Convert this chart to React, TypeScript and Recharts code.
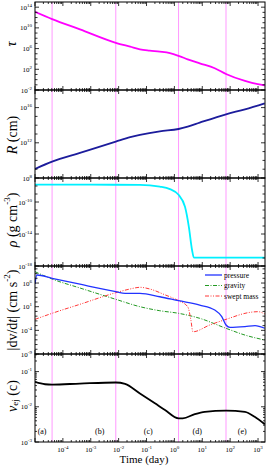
import React from 'react';
import { LineChart, Line, XAxis, YAxis, ReferenceLine, ReferenceDot } from 'recharts';

// ---------------- data (time in days) ----------------
const tauTime = [1e-5, 4.1e-5, 4.1e-4, 7.9e-3, 0.026, 0.058, 0.13, 0.3, 0.69, 1.41, 3.0, 8.1, 28, 71, 340, 980, 1740];
const tauValues = [1.3e13, 5e11, 5e9, 1.3e7, 2.3e6, 7.2e5, 4e5, 2.5e5, 1.3e5, 4e4, 8.5e3, 1.4e3, 160, 12.6, 0.56, 0.13, 0.08];

const rTime = [1e-5, 4.1e-5, 4.1e-4, 7.9e-3, 0.026, 0.058, 0.3, 1.41, 3.0, 8.1, 71, 340, 1740];
const rValues = [1.05e9, 7.1e9, 7.1e10, 1.35e12, 4.3e12, 7.8e12, 2e13, 3.7e13, 6.8e13, 1.95e14, 1.74e15, 6.3e15, 3e16];

const rhoTime = [1e-5, 1e-3, 0.058, 0.3, 0.69, 1.41, 2.4, 3.3, 4.3, 5.0, 100, 1740];
const rhoValues = [1.45e-8, 1.45e-8, 1.4e-8, 8.3e-9, 4e-9, 7.9e-10, 2.5e-11, 7.9e-14, 1e-16, 1.1e-17, 1.1e-17, 1.1e-17];

const pressureTime = [1e-5, 1.17e-5, 4.1e-5, 4.1e-4, 7.9e-3, 0.017, 0.058, 0.3, 1.41, 8.1, 28, 50, 71, 98, 340, 780, 1740];
const pressureValues = [6.3e5, 5e7, 1e7, 5.6e5, 1.5e4, 6.3e3, 6.3e3, 1.26e3, 182, 22, 2, 0.079, 1.35e-3, 4.4e-4, 6.3e-4, 1e-3, 2.8e-4];

const gravityTime = [1e-5, 4.1e-5, 4.1e-4, 7.9e-3, 0.058, 0.3, 1.41, 8.1, 71, 340, 1740];
const gravityValues = [2.5e8, 7.1e6, 8.9e4, 363, 10, 1.4, 0.4, 0.035, 2.7e-4, 1e-5, 9.1e-7];

const sweptTime = [1e-5, 4.1e-5, 4.1e-4, 7.9e-3, 0.026, 0.058, 0.13, 0.46, 1.41, 3.0, 3.9, 4.6, 18.6, 71, 510, 980, 1740];
const sweptValues = [0.021, 0.4, 32, 9.1e3, 5.6e4, 1.26e5, 5.6e4, 3.2e3, 182, 10, 0.016, 5e-5, 1.35e-3, 0.021, 0.63, 0.89, 0.3];

const vTime = [1e-5, 2.3e-5, 4.1e-5, 4.1e-4, 7.9e-3, 0.017, 0.058, 0.2, 0.46, 1.41, 2.0, 5.4, 12.3, 71, 340, 780, 1740];
const vValues = [0.051, 0.0437, 0.0427, 0.0457, 0.049, 0.0447, 0.024, 0.0126, 0.0081, 0.0047, 0.0047, 0.0062, 0.0072, 0.0078, 0.0072, 0.0051, 0.0032];

const phaseBoundaries = [4.1e-5, 7.9e-3, 1.41, 71];
const phaseLabelTimes = [1.8e-5, 2.1e-3, 0.115, 6.6, 270];
const phaseLabels = ['(a)', '(b)', '(c)', '(d)', '(e)'];
const phaseLabelLevel = 2e-3;

const xTickExps = [-5, -4, -3, -2, -1, 0, 1, 2, 3];
const xLabelExps = [-4, -3, -2, -1, 0, 1, 2, 3];

const tauLabelExps = [-2, 2, 6, 10, 14];
const rLabelExps = [8, 12, 16];
const rhoLabelExps = [-18, -14, -10];
const accLabelExps = [-9, -4, 1, 6];
const vLabelExps = [-3, -2, -1];

// ---------------- layout ----------------
const FONT = '"Liberation Serif", "DejaVu Serif", serif';
const W = 266;
const LEFT = 35;
const PLOT_W = 230;
const PLOT_H = 88;
const TOP0 = 2;
const X_MIN = 1e-5;
const X_MAX = 1778;
const BOTTOM_EXTRA = 24;

const mk = (t: number[], v: number[]) => t.map((x, i) => ({ t: x, v: v[i] }));

const xTicks: number[] = [];
xTickExps.forEach((e) => {
  for (let k = 1; k <= 9; k++) {
    const v = k * Math.pow(10, e);
    if (v >= X_MIN && v <= X_MAX) xTicks.push(v);
  }
});

function decadeTicks(lo: number, hi: number, minors: boolean): number[] {
  const out: number[] = [];
  for (let e = lo; e <= hi; e++) {
    out.push(Math.pow(10, e));
    if (minors) for (let k = 2; k <= 9; k++) out.push(k * Math.pow(10, e));
  }
  return out;
}

const isDecade = (v: number) => {
  const e = Math.log10(v);
  return Math.abs(e - Math.round(e)) < 1e-6;
};

const makeXTick = (showLabels: boolean) => (props: any) => {
  const { x, y, payload } = props;
  const v = payload.value;
  const major = isDecade(v);
  const e = Math.round(Math.log10(v));
  const len = major ? 4 : 2;
  return (
    <g>
      <line x1={x} y1={y} x2={x} y2={y - len} stroke="#000" strokeWidth={0.8} />
      <line x1={x} y1={y - PLOT_H} x2={x} y2={y - PLOT_H + len} stroke="#000" strokeWidth={0.8} />
      {showLabels && major && xLabelExps.includes(e) ? (
        <text x={x} y={y + 10} textAnchor="middle" fontFamily={FONT} fontSize={7} fill="#000">
          10<tspan dy={-3} fontSize={5}>{e}</tspan>
        </text>
      ) : null}
    </g>
  );
};

const makeYTick = (labelExps: number[]) => (props: any) => {
  const { x, y, payload } = props;
  const v = payload.value;
  const dec = isDecade(v);
  const e = Math.round(Math.log10(v));
  const labeled = dec && labelExps.includes(e);
  const len = dec ? (labeled ? 4 : 2.5) : 2;
  return (
    <g>
      <line x1={x} y1={y} x2={x + len} y2={y} stroke="#000" strokeWidth={0.8} />
      <line x1={x + PLOT_W} y1={y} x2={x + PLOT_W - len} y2={y} stroke="#000" strokeWidth={0.8} />
      {labeled ? (
        <text x={x - 3} y={y + 2.5} textAnchor="end" fontFamily={FONT} fontSize={7} fill="#000">
          10<tspan dy={-3} fontSize={5}>{e}</tspan>
        </text>
      ) : null}
    </g>
  );
};

type Series = { data: { t: number; v: number }[]; color: string; width: number; dash?: string; name: string };

type PanelProps = {
  index: number;
  yDomain: [number, number];
  yTicks: number[];
  labelExps: number[];
  series: Series[];
  last?: boolean;
};

function Panel({ index, yDomain, yTicks, labelExps, series, last }: PanelProps) {
  const top = TOP0 + index * PLOT_H;
  const extra = last ? BOTTOM_EXTRA : 0;
  return (
    <div style={{ position: 'absolute', left: 0, top: top - 1 }}>
      <LineChart width={W} height={PLOT_H + 2 + extra} margin={{ top: 1, right: 1, bottom: extra, left: 0 }}>
        <XAxis
          dataKey="t"
          type="number"
          scale="log"
          domain={[X_MIN, X_MAX]}
          allowDataOverflow
          ticks={xTicks}
          interval={0}
          tickSize={0}
          tickMargin={0}
          axisLine={false}
          tickLine={false}
          height={1}
          tick={makeXTick(!!last)}
        />
        <YAxis
          type="number"
          scale="log"
          domain={yDomain}
          allowDataOverflow
          ticks={yTicks}
          interval={0}
          width={LEFT}
          tickSize={0}
          tickMargin={0}
          axisLine={false}
          tickLine={false}
          tick={makeYTick(labelExps)}
        />
        {phaseBoundaries.map((b) => (
          <ReferenceLine key={'b' + b} x={b} stroke="#ff99ff" strokeWidth={1} />
        ))}
        {series.map((s) => (
          <Line
            key={s.name}
            data={s.data}
            dataKey="v"
            type="monotone"
            stroke={s.color}
            strokeWidth={s.width}
            strokeDasharray={s.dash}
            dot={false}
            isAnimationActive={false}
          />
        ))}
        {last
          ? phaseLabelTimes.map((t, i) => (
              <ReferenceDot
                key={'p' + i}
                x={t}
                y={phaseLabelLevel}
                r={0}
                fill="none"
                stroke="none"
                label={{ value: phaseLabels[i], position: 'center', fontSize: 8, fill: '#000', fontFamily: FONT }}
              />
            ))
          : null}
      </LineChart>
    </div>
  );
}

export default function App() {
  const frames = [0, 1, 2, 3, 4].map((i) => TOP0 + i * PLOT_H);
  return (
    <div style={{ position: 'absolute', left: 0, top: 0, width: W, height: 466, background: '#fff', fontFamily: FONT }}>
      <style>{'.recharts-surface{overflow:visible}'}</style>
      <Panel
        index={0}
        yDomain={[1e-2, 1e15]}
        yTicks={decadeTicks(-2, 14, false)}
        labelExps={tauLabelExps}
        series={[{ name: 'tau', data: mk(tauTime, tauValues), color: '#ff00ff', width: 1.8 }]}
      />
      <Panel
        index={1}
        yDomain={[1e8, 1e18]}
        yTicks={decadeTicks(8, 17, false)}
        labelExps={rLabelExps}
        series={[{ name: 'R', data: mk(rTime, rValues), color: '#1c1c9c', width: 1.8 }]}
      />
      <Panel
        index={2}
        yDomain={[1e-18, 1e-7]}
        yTicks={decadeTicks(-18, -8, false)}
        labelExps={rhoLabelExps}
        series={[{ name: 'rho', data: mk(rhoTime, rhoValues), color: '#00f0ff', width: 1.8 }]}
      />
      <Panel
        index={3}
        yDomain={[1e-9, 4e9]}
        yTicks={decadeTicks(-9, 9, false)}
        labelExps={accLabelExps}
        series={[
          { name: 'gravity', data: mk(gravityTime, gravityValues), color: '#229922', width: 1, dash: '4 1.5 1 1.5' },
          { name: 'swept', data: mk(sweptTime, sweptValues), color: '#ff3838', width: 1, dash: '4 1.5 1 1.5 1 1.5' },
          { name: 'pressure', data: mk(pressureTime, pressureValues), color: '#2233ff', width: 1.3 },
        ]}
      />
      <Panel
        index={4}
        yDomain={[1e-3, 0.316]}
        yTicks={decadeTicks(-3, -1, true).filter((v) => v <= 0.316)}
        labelExps={vLabelExps}
        series={[{ name: 'v', data: mk(vTime, vValues), color: '#000', width: 1.8 }]}
        last
      />
      <svg width={W} height={466} style={{ position: 'absolute', left: 0, top: 0, pointerEvents: 'none' }}>
        {frames.map((y) => (
          <rect key={y} x={LEFT} y={y} width={PLOT_W} height={PLOT_H} fill="none" stroke="#000" strokeWidth={1} />
        ))}
        <g fontFamily={FONT} fill="#000" fontSize={14}>
          <text x={11} y={44} transform="rotate(-90 11 44)" textAnchor="middle" dominantBaseline="central" fontStyle="italic">τ</text>
          <text x={12} y={135} transform="rotate(-90 12 135)" textAnchor="middle" dominantBaseline="central">
            <tspan fontStyle="italic">R</tspan> (cm)
          </text>
          <text x={12} y={220} transform="rotate(-90 12 220)" textAnchor="middle" dominantBaseline="central">
            <tspan fontStyle="italic">ρ</tspan> (g cm<tspan dy={-5} fontSize={9}>-3</tspan><tspan dy={5}>)</tspan>
          </text>
          <text x={12} y={310} transform="rotate(-90 12 310)" textAnchor="middle" dominantBaseline="central">
            |dv/d<tspan fontStyle="italic">t</tspan>| (cm s<tspan dy={-5} fontSize={9}>-2</tspan><tspan dy={5}>)</tspan>
          </text>
          <text x={12} y={396} transform="rotate(-90 12 396)" textAnchor="middle" dominantBaseline="central">
            <tspan fontStyle="italic">v</tspan><tspan dy={3} fontSize={9}>ej</tspan><tspan dy={-3}> (c)</tspan>
          </text>
        </g>
        <text x={144} y={463} textAnchor="middle" fontFamily={FONT} fontSize={11} fill="#000">Time (day)</text>
        <g fontFamily={FONT} fontSize={7.5} fill="#000">
          <line x1={205} y1={275} x2={222} y2={275} stroke="#2233ff" strokeWidth={1.3} />
          <text x={224} y={277.5}>pressure</text>
          <line x1={205} y1={285.5} x2={222} y2={285.5} stroke="#229922" strokeWidth={1} strokeDasharray="4 1.5 1 1.5" />
          <text x={224} y={288}>gravity</text>
          <line x1={205} y1={296} x2={222} y2={296} stroke="#ff3838" strokeWidth={1} strokeDasharray="4 1.5 1 1.5 1 1.5" />
          <text x={224} y={298.5}>swept mass</text>
        </g>
      </svg>
    </div>
  );
}
